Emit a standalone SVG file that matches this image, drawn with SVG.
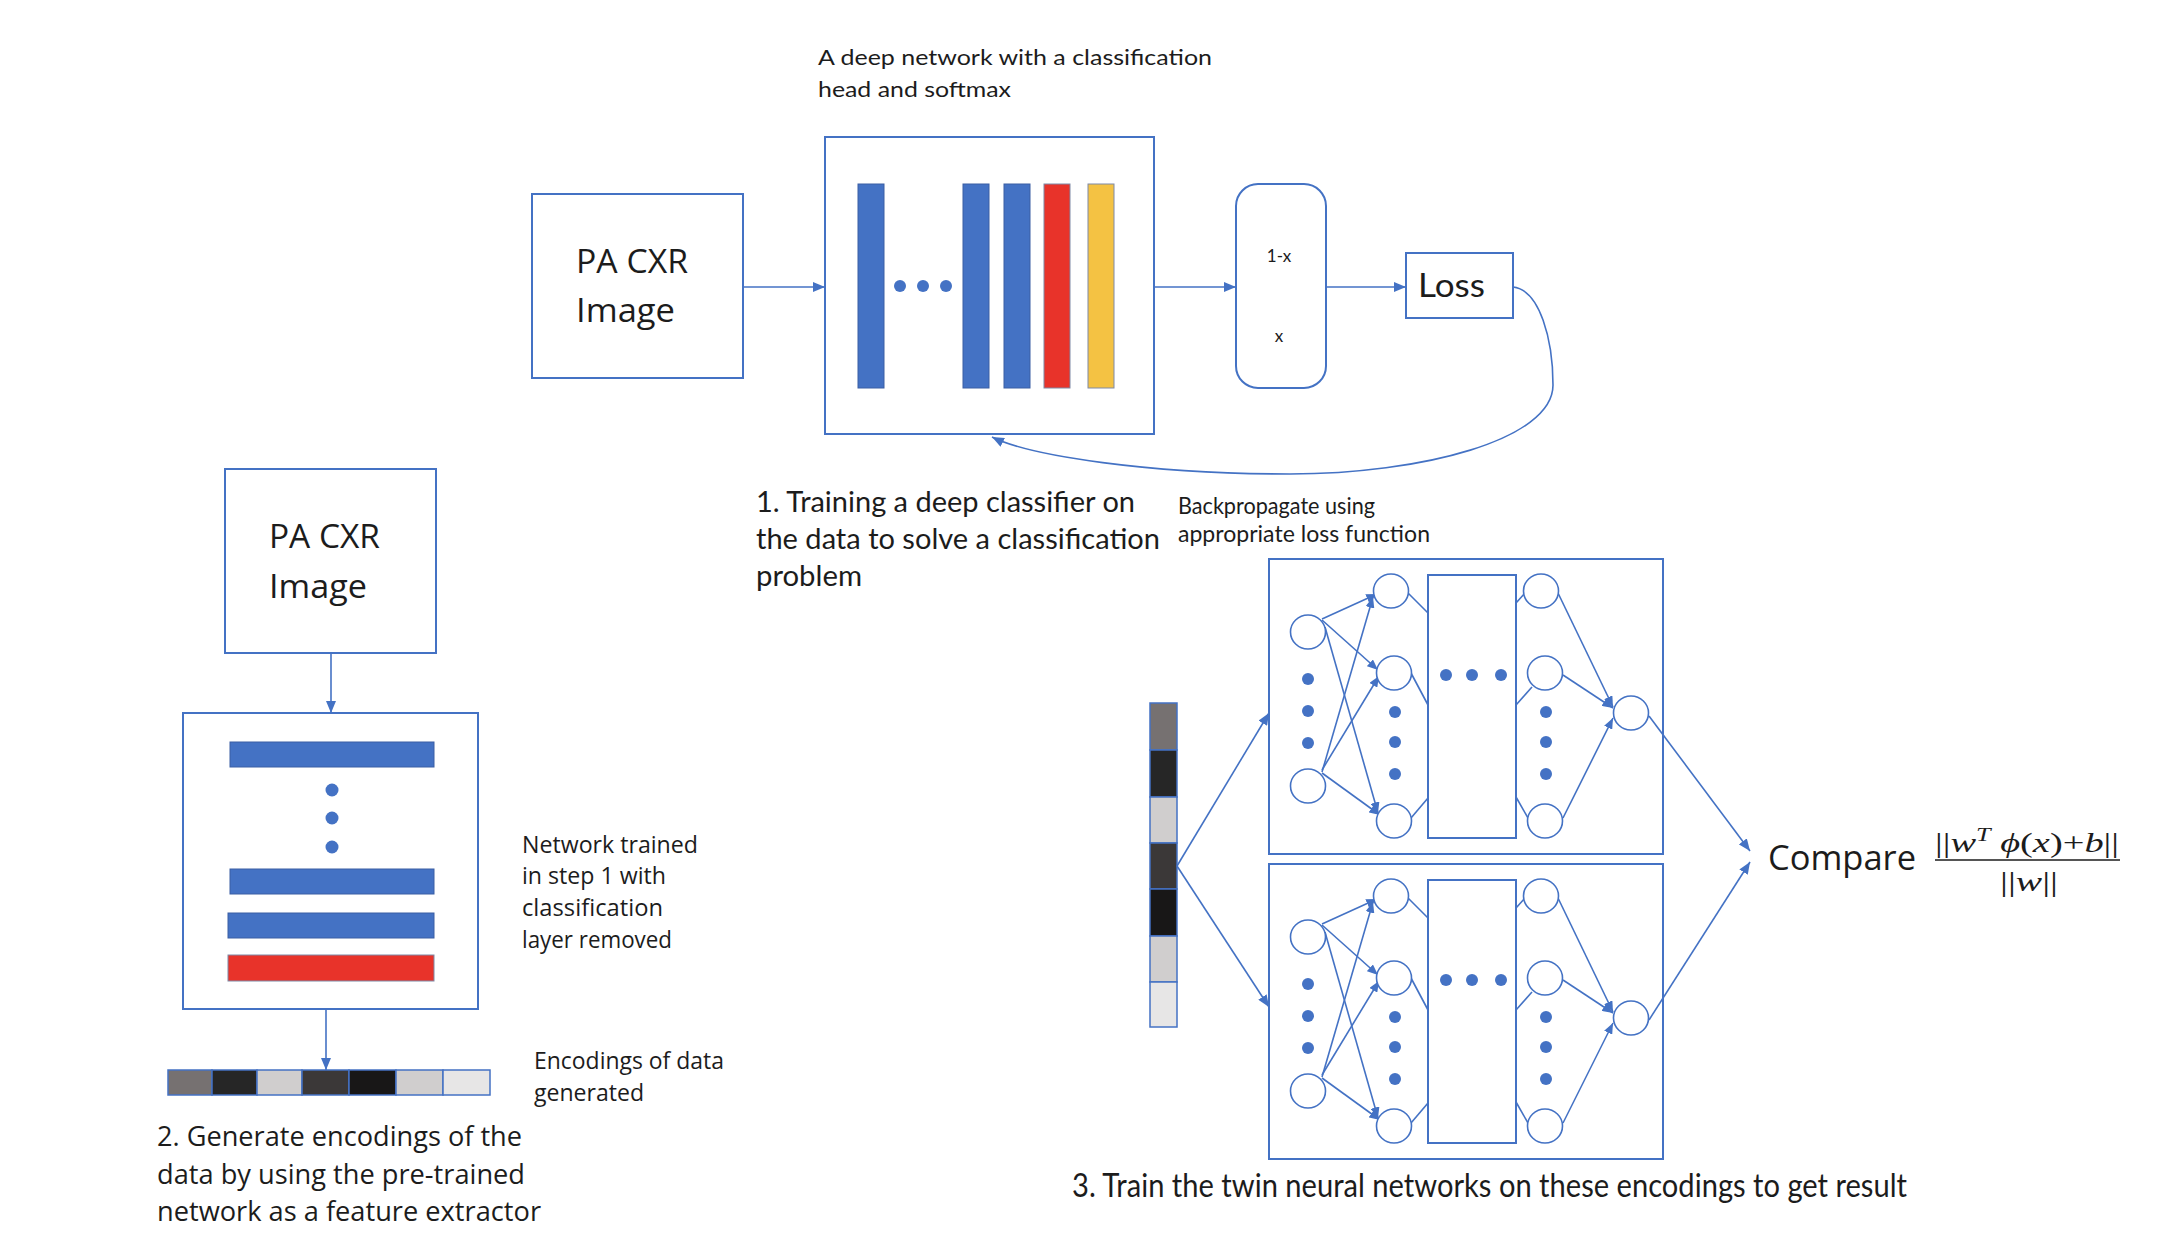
<svg xmlns="http://www.w3.org/2000/svg" width="2174" height="1252" viewBox="0 0 2174 1252">
<style>
.box{fill:#fff;stroke:#4472C4;stroke-width:2}
.ln{stroke:#4472C4;stroke-width:1.6;fill:none}
.arr{marker-end:url(#ah)}
.blue{fill:#4472C4;stroke:#3A5EA4;stroke-width:1}
.red{fill:#E8332A;stroke:#7F8AA6;stroke-width:1}
.yel{fill:#F4C243;stroke:#7F8AA6;stroke-width:1}
.dot{fill:#4472C4}
.nd{fill:#fff;stroke:#4472C4;stroke-width:1.6}
.cal{font-family:Lato,"Liberation Sans",sans-serif;fill:#1c1c1c}
.seg{font-family:"Open Sans","Noto Sans",sans-serif;fill:#1c1c1c}
.math{font-family:"Liberation Serif","DejaVu Serif",serif;fill:#1c1c1c}
.enc{stroke:#4472C4;stroke-width:1.5}
</style>
<defs>
<marker id="ah" viewBox="0 0 12 10" refX="12" refY="5" markerWidth="12" markerHeight="10" markerUnits="userSpaceOnUse" orient="auto"><path d="M0,0 L12,5 L0,10 z" fill="#4472C4"/></marker>
<marker id="ahs" viewBox="0 0 12 10" refX="12" refY="5" markerWidth="11" markerHeight="9" markerUnits="userSpaceOnUse" orient="auto"><path d="M0,0 L12,5 L0,10 z" fill="#4472C4"/></marker>
</defs>
<rect width="2174" height="1252" fill="#fff"/>

<!-- Step 1 -->
<g id="title-deep">
<text class="cal" x="818" y="65" font-size="21" textLength="394" lengthAdjust="spacingAndGlyphs">A deep network  with a classification</text>
<text class="cal" x="818" y="97" font-size="21" textLength="193" lengthAdjust="spacingAndGlyphs">head and softmax</text>
</g>
<g id="pa-cxr-top">
<rect class="box" x="532" y="194" width="211" height="184"/>
<text class="seg" x="576" y="273" font-size="33" textLength="112" lengthAdjust="spacingAndGlyphs">PA CXR</text>
<text class="seg" x="576" y="322" font-size="33" textLength="99" lengthAdjust="spacingAndGlyphs">Image</text>
</g>
<g id="deep-network">
<rect class="box" x="825" y="137" width="329" height="297"/>
<rect class="blue" x="858" y="184" width="26" height="204"/>
<circle class="dot" cx="900" cy="286" r="6"/>
<circle class="dot" cx="923" cy="286" r="6"/>
<circle class="dot" cx="946" cy="286" r="6"/>
<rect class="blue" x="963" y="184" width="26" height="204"/>
<rect class="blue" x="1004" y="184" width="26" height="204"/>
<rect class="red" x="1044" y="184" width="26" height="204"/>
<rect class="yel" x="1088" y="184" width="26" height="204"/>
</g>
<g id="softmax">
<rect class="box" x="1236" y="184" width="90" height="204" rx="22" ry="22"/>
<text class="cal" x="1279" y="262" font-size="17" text-anchor="middle">1-x</text>
<text class="cal" x="1279" y="342" font-size="17" text-anchor="middle">x</text>
</g>
<g id="loss">
<rect class="box" x="1406" y="253" width="107" height="65"/>
<text class="cal" x="1418" y="297" font-size="32" textLength="67" lengthAdjust="spacingAndGlyphs">Loss</text>
</g>
<g id="step1-label">
<text class="cal" x="756" y="512" font-size="29" textLength="379" lengthAdjust="spacingAndGlyphs">1. Training a deep classifier on</text>
<text class="cal" x="756" y="549" font-size="29" textLength="404" lengthAdjust="spacingAndGlyphs">the data to solve a classification</text>
<text class="cal" x="756" y="586" font-size="29" textLength="106" lengthAdjust="spacingAndGlyphs">problem</text>
</g>
<g id="backprop-label">
<text class="cal" x="1178" y="514" font-size="23" textLength="197" lengthAdjust="spacingAndGlyphs">Backpropagate using</text>
<text class="cal" x="1178" y="542" font-size="23" textLength="252" lengthAdjust="spacingAndGlyphs">appropriate loss function</text>
</g>

<!-- Step 2 -->
<g id="pa-cxr-left">
<rect class="box" x="225" y="469" width="211" height="184"/>
<text class="seg" x="269" y="548" font-size="33" textLength="111" lengthAdjust="spacingAndGlyphs">PA CXR</text>
<text class="seg" x="269" y="598" font-size="33" textLength="98" lengthAdjust="spacingAndGlyphs">Image</text>
</g>
<g id="feature-extractor">
<rect class="box" x="183" y="713" width="295" height="296"/>
<rect class="blue" x="230" y="742" width="204" height="25"/>
<circle class="dot" cx="332" cy="790" r="6.5"/>
<circle class="dot" cx="332" cy="818" r="6.5"/>
<circle class="dot" cx="332" cy="847" r="6.5"/>
<rect class="blue" x="230" y="869" width="204" height="25"/>
<rect class="blue" x="228" y="913" width="206" height="25"/>
<rect class="red" x="228" y="955" width="206" height="26"/>
</g>
<g id="network-trained-label">
<text class="seg" x="522" y="853" font-size="23.5" textLength="176" lengthAdjust="spacingAndGlyphs">Network  trained</text>
<text class="seg" x="522" y="884" font-size="23.5" textLength="144" lengthAdjust="spacingAndGlyphs">in step 1 with</text>
<text class="seg" x="522" y="916" font-size="23.5" textLength="141" lengthAdjust="spacingAndGlyphs">classification</text>
<text class="seg" x="522" y="948" font-size="23.5" textLength="150" lengthAdjust="spacingAndGlyphs">layer removed</text>
</g>
<g id="encodings-h">
<rect class="enc" x="168" y="1070" width="44" height="25" fill="#767171"/>
<rect class="enc" x="212" y="1070" width="45" height="25" fill="#262626"/>
<rect class="enc" x="257" y="1070" width="45" height="25" fill="#D0CECE"/>
<rect class="enc" x="302" y="1070" width="47" height="25" fill="#3B3838"/>
<rect class="enc" x="349" y="1070" width="47" height="25" fill="#181717"/>
<rect class="enc" x="396" y="1070" width="47" height="25" fill="#D0CECE"/>
<rect class="enc" x="443" y="1070" width="47" height="25" fill="#E7E6E6"/>
</g>
<g id="encodings-label">
<text class="seg" x="534" y="1069" font-size="23" textLength="190" lengthAdjust="spacingAndGlyphs">Encodings of data</text>
<text class="seg" x="534" y="1101" font-size="23" textLength="110" lengthAdjust="spacingAndGlyphs">generated</text>
</g>
<g id="step2-label">
<text class="seg" x="157" y="1146" font-size="28" textLength="365" lengthAdjust="spacingAndGlyphs">2. Generate encodings of the</text>
<text class="seg" x="157" y="1184" font-size="28" textLength="368" lengthAdjust="spacingAndGlyphs">data by using the pre-trained</text>
<text class="seg" x="157" y="1221" font-size="28" textLength="384" lengthAdjust="spacingAndGlyphs">network as a feature extractor</text>
</g>

<!-- Step 3 -->
<g id="encodings-v">
<rect class="enc" x="1150" y="703" width="27" height="47" fill="#767171"/>
<rect class="enc" x="1150" y="750" width="27" height="47" fill="#262626"/>
<rect class="enc" x="1150" y="797" width="27" height="46" fill="#D0CECE"/>
<rect class="enc" x="1150" y="843" width="27" height="46" fill="#3B3838"/>
<rect class="enc" x="1150" y="889" width="27" height="47" fill="#181717"/>
<rect class="enc" x="1150" y="936" width="27" height="46" fill="#D0CECE"/>
<rect class="enc" x="1150" y="982" width="27" height="45" fill="#E7E6E6"/>
</g>

<g id="twin-top">
<rect class="box" x="1269" y="559" width="394" height="295"/>
<rect class="box" x="1428" y="575" width="88" height="263"/>
<g class="edges">
<line class="ln" x1="1322" y1="619" x2="1377" y2="594" marker-end="url(#ahs)"/>
<line class="ln" x1="1322" y1="620" x2="1378" y2="670" marker-end="url(#ahs)"/>
<line class="ln" x1="1325" y1="627" x2="1378" y2="813" marker-end="url(#ahs)"/>
<line class="ln" x1="1322" y1="772" x2="1373" y2="597" marker-end="url(#ahs)"/>
<line class="ln" x1="1322" y1="770" x2="1379" y2="676" marker-end="url(#ahs)"/>
<line class="ln" x1="1322" y1="773" x2="1380" y2="815" marker-end="url(#ahs)"/>
<line class="ln" x1="1408" y1="593" x2="1428" y2="613"/>
<line class="ln" x1="1411" y1="673" x2="1428" y2="705"/>
<line class="ln" x1="1411" y1="818" x2="1428" y2="798"/>
<line class="ln" x1="1516" y1="603" x2="1525" y2="593"/>
<line class="ln" x1="1516" y1="705" x2="1532" y2="687"/>
<line class="ln" x1="1516" y1="797" x2="1528" y2="818"/>
<line class="ln" x1="1558" y1="593" x2="1613" y2="707" marker-end="url(#ahs)"/>
<line class="ln" x1="1563" y1="675" x2="1613" y2="708" marker-end="url(#ahs)"/>
<line class="ln" x1="1563" y1="818" x2="1613" y2="718" marker-end="url(#ahs)"/>
</g>
<ellipse class="nd" cx="1308" cy="632" rx="17.5" ry="17"/>
<ellipse class="nd" cx="1308" cy="786" rx="17.5" ry="17"/>
<ellipse class="nd" cx="1391" cy="591" rx="17.5" ry="17"/>
<ellipse class="nd" cx="1394" cy="673" rx="17.5" ry="17"/>
<ellipse class="nd" cx="1394" cy="821" rx="17.5" ry="17"/>
<ellipse class="nd" cx="1541" cy="591" rx="17.5" ry="17"/>
<ellipse class="nd" cx="1545" cy="673" rx="17.5" ry="17"/>
<ellipse class="nd" cx="1545" cy="821" rx="17.5" ry="17"/>
<ellipse class="nd" cx="1631" cy="713" rx="17.5" ry="17"/>
<circle class="dot" cx="1308" cy="679" r="6"/>
<circle class="dot" cx="1308" cy="711" r="6"/>
<circle class="dot" cx="1308" cy="743" r="6"/>
<circle class="dot" cx="1395" cy="712" r="6"/>
<circle class="dot" cx="1395" cy="742" r="6"/>
<circle class="dot" cx="1395" cy="774" r="6"/>
<circle class="dot" cx="1446" cy="675" r="6"/>
<circle class="dot" cx="1472" cy="675" r="6"/>
<circle class="dot" cx="1501" cy="675" r="6"/>
<circle class="dot" cx="1546" cy="712" r="6"/>
<circle class="dot" cx="1546" cy="742" r="6"/>
<circle class="dot" cx="1546" cy="774" r="6"/>
</g>

<g id="twin-bottom" transform="translate(0,305)">
<rect class="box" x="1269" y="559" width="394" height="295"/>
<rect class="box" x="1428" y="575" width="88" height="263"/>
<g class="edges">
<line class="ln" x1="1322" y1="619" x2="1377" y2="594" marker-end="url(#ahs)"/>
<line class="ln" x1="1322" y1="620" x2="1378" y2="670" marker-end="url(#ahs)"/>
<line class="ln" x1="1325" y1="627" x2="1378" y2="813" marker-end="url(#ahs)"/>
<line class="ln" x1="1322" y1="772" x2="1373" y2="597" marker-end="url(#ahs)"/>
<line class="ln" x1="1322" y1="770" x2="1379" y2="676" marker-end="url(#ahs)"/>
<line class="ln" x1="1322" y1="773" x2="1380" y2="815" marker-end="url(#ahs)"/>
<line class="ln" x1="1408" y1="593" x2="1428" y2="613"/>
<line class="ln" x1="1411" y1="673" x2="1428" y2="705"/>
<line class="ln" x1="1411" y1="818" x2="1428" y2="798"/>
<line class="ln" x1="1516" y1="603" x2="1525" y2="593"/>
<line class="ln" x1="1516" y1="705" x2="1532" y2="687"/>
<line class="ln" x1="1516" y1="797" x2="1528" y2="818"/>
<line class="ln" x1="1558" y1="593" x2="1613" y2="707" marker-end="url(#ahs)"/>
<line class="ln" x1="1563" y1="675" x2="1613" y2="708" marker-end="url(#ahs)"/>
<line class="ln" x1="1563" y1="818" x2="1613" y2="718" marker-end="url(#ahs)"/>
</g>
<ellipse class="nd" cx="1308" cy="632" rx="17.5" ry="17"/>
<ellipse class="nd" cx="1308" cy="786" rx="17.5" ry="17"/>
<ellipse class="nd" cx="1391" cy="591" rx="17.5" ry="17"/>
<ellipse class="nd" cx="1394" cy="673" rx="17.5" ry="17"/>
<ellipse class="nd" cx="1394" cy="821" rx="17.5" ry="17"/>
<ellipse class="nd" cx="1541" cy="591" rx="17.5" ry="17"/>
<ellipse class="nd" cx="1545" cy="673" rx="17.5" ry="17"/>
<ellipse class="nd" cx="1545" cy="821" rx="17.5" ry="17"/>
<ellipse class="nd" cx="1631" cy="713" rx="17.5" ry="17"/>
<circle class="dot" cx="1308" cy="679" r="6"/>
<circle class="dot" cx="1308" cy="711" r="6"/>
<circle class="dot" cx="1308" cy="743" r="6"/>
<circle class="dot" cx="1395" cy="712" r="6"/>
<circle class="dot" cx="1395" cy="742" r="6"/>
<circle class="dot" cx="1395" cy="774" r="6"/>
<circle class="dot" cx="1446" cy="675" r="6"/>
<circle class="dot" cx="1472" cy="675" r="6"/>
<circle class="dot" cx="1501" cy="675" r="6"/>
<circle class="dot" cx="1546" cy="712" r="6"/>
<circle class="dot" cx="1546" cy="742" r="6"/>
<circle class="dot" cx="1546" cy="774" r="6"/>
</g>

<g id="compare">
<text class="seg" x="1768" y="870" font-size="35" textLength="148" lengthAdjust="spacingAndGlyphs">Compare</text>
<text class="math" x="1935" y="852" font-size="28" textLength="184" lengthAdjust="spacingAndGlyphs">||<tspan font-style="italic">w</tspan><tspan font-style="italic" font-size="19" dy="-11">T</tspan><tspan font-style="italic" dy="11"> ϕ</tspan>(<tspan font-style="italic">x</tspan>)+<tspan font-style="italic">b</tspan>||</text>
<line x1="1935" y1="860" x2="2120" y2="860" stroke="#1c1c1c" stroke-width="1.5"/>
<text class="math" x="2000" y="891" font-size="28" textLength="58" lengthAdjust="spacingAndGlyphs">||<tspan font-style="italic">w</tspan>||</text>
</g>
<g id="step3-label">
<text class="cal" x="1072" y="1197" font-size="33" textLength="835" lengthAdjust="spacingAndGlyphs">3. Train the twin neural networks on these encodings to get result</text>
</g>

<g id="connectors">
<line class="ln arr" x1="743" y1="287" x2="825" y2="287"/>
<line class="ln arr" x1="1154" y1="287" x2="1236" y2="287"/>
<line class="ln arr" x1="1326" y1="287" x2="1406" y2="287"/>
<path class="ln arr" d="M1513,287 C1540,290 1553,340 1553,385 C1553,440 1420,474 1290,474 C1150,474 1030,456 992,437"/>
<line class="ln arr" x1="331" y1="653" x2="331" y2="713"/>
<line class="ln arr" x1="326" y1="1009" x2="326" y2="1070"/>
<line class="ln arr" x1="1177" y1="866" x2="1269" y2="713"/>
<line class="ln arr" x1="1177" y1="866" x2="1269" y2="1007"/>
<line class="ln arr" x1="1649" y1="716" x2="1750" y2="851"/>
<line class="ln arr" x1="1649" y1="1020" x2="1750" y2="862"/>
</g>
</svg>
